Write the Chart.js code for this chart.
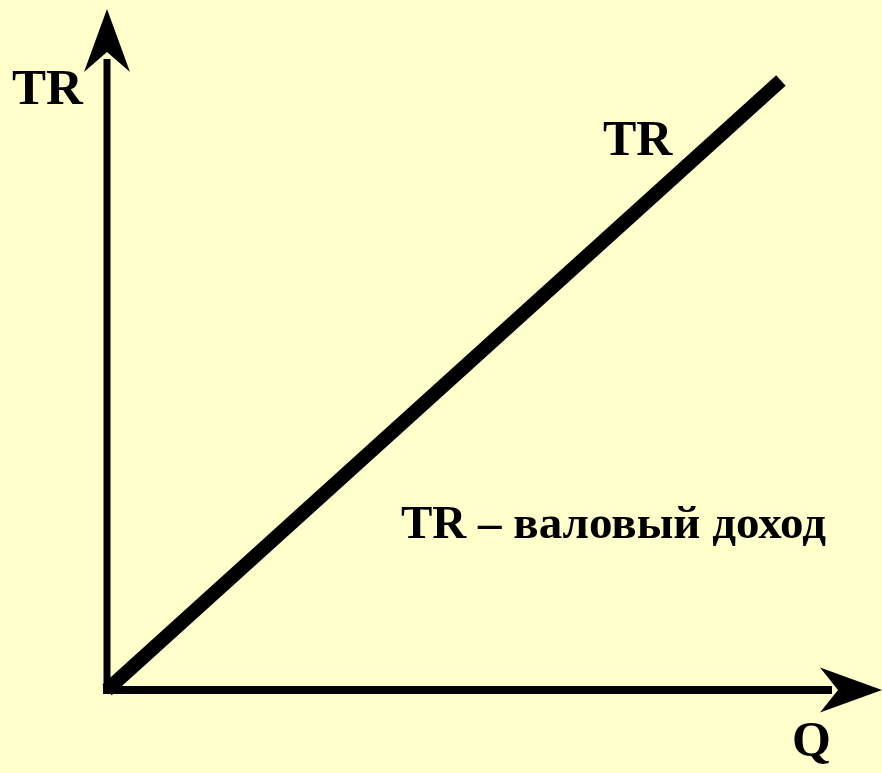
<!DOCTYPE html>
<html>
<head>
<meta charset="utf-8">
<script src="https://cdn.jsdelivr.net/npm/chart.js@4"></script>
<style>
  html, body { margin: 0; padding: 0; background: #ffffcc; }
  #wrap { width: 882px; height: 773px; }
</style>
</head>
<body>
<div id="wrap"><canvas id="myChart"></canvas></div>
<script>
// quantity (x) and total revenue (y) for the TR line
const quantity = [0, 10];
const revenue = [0, 8.95];
// axis ranges
const qRange = [0, 11.5];
const trRange = [0, 10];
// texts
const yAxisTitle = "TR";
const xAxisTitle = "Q";
const seriesLabel = "TR";
const note = "TR \u2013 валовый доход";

const bgColor = "#ffffcc";
const serif = "'Liberation Serif', 'Times New Roman', serif";

// fill the canvas background
const background = {
  id: "background",
  beforeDraw(chart) {
    const ctx = chart.ctx;
    ctx.save();
    ctx.fillStyle = bgColor;
    ctx.fillRect(0, 0, chart.width, chart.height);
    ctx.restore();
  },
};

// draw both axes with arrow heads, from the scales' own pixels
const arrowAxes = {
  id: "arrowAxes",
  afterDatasetsDraw(chart) {
    const ctx = chart.ctx;
    const x = chart.scales.x;
    const y = chart.scales.y;
    const x0 = x.getPixelForValue(qRange[0]);
    const y0 = y.getPixelForValue(trRange[0]);
    const xEnd = x.getPixelForValue(qRange[1]);
    const yEnd = y.getPixelForValue(trRange[1]);

    ctx.save();
    ctx.fillStyle = "#000";
    // y axis shaft
    ctx.fillRect(x0 - 3.5, yEnd + 50, 7, y0 + 4 - (yEnd + 50));
    // x axis shaft
    ctx.fillRect(x0 - 4, y0 - 4, xEnd - 50 - (x0 - 4), 8);

    // up arrow head
    ctx.beginPath();
    ctx.moveTo(x0, yEnd);
    ctx.lineTo(x0 + 23, yEnd + 63);
    ctx.lineTo(x0, yEnd + 43);
    ctx.lineTo(x0 - 23, yEnd + 63);
    ctx.closePath();
    ctx.fill();

    // right arrow head
    ctx.beginPath();
    ctx.moveTo(xEnd, y0);
    ctx.lineTo(xEnd - 62, y0 - 22.5);
    ctx.lineTo(xEnd - 44, y0);
    ctx.lineTo(xEnd - 62, y0 + 22.5);
    ctx.closePath();
    ctx.fill();

    // texts
    ctx.fillStyle = "#000";
    ctx.textBaseline = "alphabetic";
    ctx.textAlign = "left";
    ctx.font = "bold 51px " + serif;
    ctx.fillText(yAxisTitle, 12, 104);
    ctx.font = "bold 50px " + serif;
    ctx.fillText(seriesLabel, 603, 155);
    ctx.font = "bold 47px " + serif;
    ctx.fillText(note, 401, 538);
    ctx.font = "bold 50px " + serif;
    ctx.fillText(xAxisTitle, 792, 756);
    ctx.restore();
  },
};

const chart = new Chart(document.getElementById("myChart"), {
  type: "scatter",
  data: {
    datasets: [
      {
        label: seriesLabel,
        data: quantity.map((q, i) => ({ x: q, y: revenue[i] })),
        showLine: true,
        borderColor: "#000",
        borderWidth: 14,
        borderCapStyle: "butt",
        pointRadius: 0,
        clip: false,
      },
    ],
  },
  options: {
    responsive: true,
    maintainAspectRatio: false,
    animation: false,
    layout: {
      padding: { left: 107, right: 0, top: 9, bottom: 83 },
    },
    plugins: {
      legend: { display: false },
      tooltip: { enabled: false },
    },
    scales: {
      x: { type: "linear", display: false, min: qRange[0], max: qRange[1] },
      y: { type: "linear", display: false, min: trRange[0], max: trRange[1] },
    },
  },
  plugins: [background, arrowAxes],
});
</script>
</body>
</html>
